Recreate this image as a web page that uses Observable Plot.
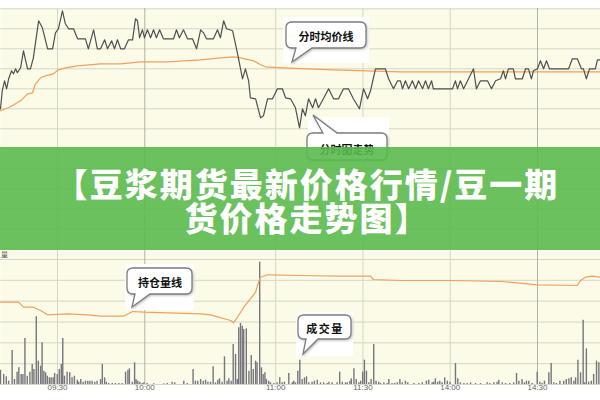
<!DOCTYPE html>
<html>
<head>
<meta charset="utf-8">
<script src="https://cdn.jsdelivr.net/npm/d3@7"></script>
<script src="https://cdn.jsdelivr.net/npm/@observablehq/plot@0.6"></script>
<style>
  html, body { margin: 0; padding: 0; background: #ffffff; }
  #wrap { position: relative; width: 600px; height: 400px; overflow: hidden; background: #ffffff;
          font-family: "Noto Sans CJK SC", "Noto Sans", sans-serif; }
  .layer { position: absolute; left: 0; }
  #banner { position: absolute; left: 0; top: 147px; width: 600px; height: 103px;
            background: rgba(90, 186, 78, 0.9); color: #ffffff; font-weight: 900;
            font-family: "Noto Sans CJK SC", sans-serif; font-size: 33px; line-height: 34px;
            letter-spacing: 2px; text-align: center; box-sizing: border-box; padding-top: 19px; padding-left: 14px; }
  #notes text { font-family: "Noto Sans CJK SC", sans-serif; font-weight: 700; font-size: 11px; fill: #111; }
</style>
</head>
<body>
<div id="wrap">
  <div id="topPanel" class="layer" style="top:0"></div>
  <div id="volPanel" class="layer" style="top:250px"></div>
  <div id="oiPanel" class="layer" style="top:250px"></div>
  <svg id="notes" class="layer" style="top:0" width="600" height="400">
    <rect x="283" y="17" width="86" height="46" fill="#ffffff"/>
    <rect x="308" y="117" width="81" height="45" fill="#ffffff"/>
    <rect x="125" y="264" width="69" height="46" fill="#ffffff"/>
    <rect x="296" y="312" width="57" height="44" fill="#ffffff"/>
    <g fill="#ffffff" stroke="#7d7d7d" stroke-width="1.3" style="filter: drop-shadow(1px 1px 0.8px rgba(0,0,0,0.25));">
      <path d="M292,22 H360 Q366,22 366,28 V42 Q366,48 360,48 H312 L292,62 L296,48 H292 Q286,48 286,42 V28 Q286,22 292,22 Z"/>
      <path d="M313,133 L323,133 L313,115 L337,133 L381,133 Q387,133 387,139 L387,154 Q387,160 381,160 L313,160 Q307,160 307,154 L307,139 Q307,133 313,133 Z"/>
      <path d="M133,268 H186 Q192,268 192,274 V288 Q192,294 186,294 H150 L132,307 L135,294 H133 Q127,294 127,288 V274 Q127,268 133,268 Z"/>
      <path d="M304,315 H345 Q351,315 351,321 V333 Q351,339 345,339 H318 L303,354 L306,339 H304 Q298,339 298,333 V321 Q298,315 304,315 Z"/>
    </g>
    <text x="326" y="36" text-anchor="middle" dominant-baseline="central">分时均价线</text>
    <text x="347" y="149" text-anchor="middle" dominant-baseline="central">分时图走势</text>
    <text x="160" y="282" text-anchor="middle" dominant-baseline="central">持仓量线</text>
    <text x="325" y="328" text-anchor="middle" dominant-baseline="central" style="letter-spacing:1.5px">成交量</text>
    <text x="1" y="257" style="font-size:7px;font-weight:400;fill:#555">量</text>
  </svg>
  <div id="banner">【豆浆期货最新价格行情/豆一期<br>货价格走势图】</div>
</div>
<script>
// ---- x axis: trading minutes since 09:00 (session gaps removed) ----
const tickTimes  = [30, 60, 105, 135, 165, 195];
const tickLabels = ["09:30", "10:00", "11:00", "11:30", "14:00", "14:30"];
const strongTicks = ["10:00", "14:30"];
const xDomain = [10.4, 216.66];

// ---- price panel ----
const priceGrid = [4168, 4172, 4176, 4180, 4184, 4188, 4192, 4196, 4200, 4204, 4208, 4212, 4216];
const priceT = [10.4,11.0,11.8,12.5,13.2,14.2,14.9,15.6,16.2,17.3,18.3,19.7,20.7,21.7,23.5,24.8,26.6,28.3,29.3,30.3,
  31.7,32.7,33.8,35.5,36.9,39.6,40.6,42.4,43.7,44.8,46.2,47.2,48.6,49.6,50.6,51.7,53.0,54.4,55.8,56.8,
  57.5,58.2,59.2,59.9,60.9,62.0,63.0,64.0,65.1,66.4,69.9,70.9,71.9,73.3,74.7,76.4,77.8,79.2,80.2,81.2,
  83.6,85.0,86.0,87.1,88.1,90.2,91.9,93.6,94.6,95.7,96.3,98.1,99.8,100.8,102.2,103.9,105.6,107.3,108.4,110.1,
  111.8,113.2,114.2,115.2,116.3,117.7,118.7,119.7,121.4,123.2,124.9,126.6,128.3,130.0,131.7,133.8,135.2,136.6,137.6,139.3,
  142.7,143.8,145.5,146.9,147.9,148.6,149.6,150.7,152.0,153.1,154.1,155.5,156.5,157.5,158.6,159.2,165.8,166.8,167.5,168.5,
  169.6,171.3,173.0,174.0,175.4,177.8,179.2,180.6,182.3,183.3,184.0,185.0,186.7,187.4,188.5,189.8,190.9,191.9,192.9,193.6,
  195.0,196.0,197.1,198.1,199.1,205.7,207.0,208.7,210.1,210.8,211.8,212.9,214.9,215.6,216.7];
const priceV = [4196.0,4199.6,4201.6,4200.0,4202.0,4203.6,4203.0,4204.0,4203.2,4204.2,4207.6,4204.0,4204.0,4206.2,4213.6,4212.2,4208.0,4208.0,4211.2,4212.0,
  4215.6,4213.0,4212.0,4212.0,4210.0,4210.0,4208.0,4211.8,4208.0,4208.0,4209.8,4208.0,4209.6,4208.0,4209.8,4208.0,4208.0,4209.8,4209.8,4214.0,
  4213.6,4210.2,4211.8,4210.2,4211.8,4210.2,4211.8,4210.2,4211.8,4210.0,4210.0,4211.8,4210.2,4211.8,4210.0,4210.0,4208.0,4211.8,4211.2,4210.0,
  4210.0,4211.8,4210.2,4213.6,4212.0,4211.6,4207.0,4202.0,4204.0,4201.6,4198.2,4198.0,4194.2,4194.6,4198.0,4198.0,4200.0,4200.0,4198.2,4198.0,
  4196.2,4192.2,4196.0,4194.6,4198.0,4196.2,4198.0,4196.2,4198.0,4200.0,4198.0,4198.0,4200.0,4200.0,4198.0,4196.0,4200.0,4198.0,4199.6,4204.0,
  4204.0,4202.0,4200.0,4201.6,4201.6,4200.0,4201.6,4200.0,4201.6,4200.0,4201.6,4200.0,4201.6,4200.0,4201.6,4200.0,4200.0,4201.6,4200.0,4201.6,
  4200.0,4202.0,4204.0,4200.0,4201.6,4201.6,4200.0,4201.6,4202.0,4203.6,4202.0,4204.0,4204.0,4202.0,4202.0,4202.0,4204.0,4204.0,4202.0,4203.6,
  4204.0,4205.6,4204.0,4205.6,4204.0,4204.0,4206.0,4206.0,4204.0,4204.0,4202.0,4204.0,4204.0,4205.8,4205.8];
const avgT = [10.4,13.8,17.3,19.7,21.4,22.4,24.2,25.9,28.6,30.3,32.7,36.9,44.8,51.7,58.5,67.8,79.2,86.0,90.5,92.9,97.4,99.8,101.5,107.7,116.0,124.9,147.9,216.7];
const avgV = [4195.6,4196.4,4197.6,4199.0,4199.2,4201.0,4202.2,4202.6,4203.0,4203.8,4204.2,4204.6,4205.0,4205.0,4205.4,4205.4,4205.8,4206.2,4206.4,4206.2,4205.6,4204.8,4204.4,4204.2,4204.0,4203.8,4203.4,4203.4];

// ---- volume / open interest panel ----
const volGrid = [0, 500, 1000, 1500, 2000, 2500, 3000];
const volT = [10.4,11.5,12.4,13.2,14.4,15.2,16.1,16.7,17.5,18.1,18.8,19.6,20.5,21.3,21.9,22.7,23.4,24.2,24.7,25.3,
  25.9,26.5,27.2,27.8,28.5,29.0,29.9,30.6,31.3,31.8,32.4,33.3,34.2,35.0,35.8,36.8,37.3,38.0,38.8,39.6,
  40.4,41.1,41.9,42.8,43.6,44.8,45.4,46.2,46.8,47.6,48.8,49.9,51.1,52.2,53.4,54.2,54.7,55.7,56.5,57.0,
  57.6,58.3,59.1,59.7,60.8,63.1,66.5,67.7,69.4,70.3,73.4,74.6,76.6,77.4,78.2,
  79.2,80.1,80.9,81.7,82.6,83.5,84.3,85.1,85.7,86.6,87.4,88.3,88.9,89.7,90.4,91.2,91.8,92.3,92.9,93.5,
  94.0,94.9,95.8,96.6,97.3,98.1,98.6,99.5,100.1,100.7,101.3,101.8,102.6,103.2,104.4,105.5,106.4,107.2,108.0,109.5,
  110.7,111.2,111.8,112.6,113.3,114.1,114.9,115.6,116.4,117.5,118.3,119.3,120.4,121.5,122.7,123.3,124.4,126.1,127.0,127.9,
  129.0,129.6,130.5,131.0,131.9,132.7,133.6,134.2,134.9,135.5,136.2,137.0,137.8,138.7,139.5,140.4,141.0,142.2,143.3,143.9,
  145.0,145.9,146.8,147.7,
  148.5,149.6,150.4,152.5,154.2,155.4,156.8,157.6,158.8,159.3,159.9,160.7,161.4,162.2,163.1,164.0,164.9,166.8,167.6,168.5,
  169.7,170.8,172.0,173.7,175.4,177.7,178.6,180.0,181.1,181.7,182.9,184.0,185.5,186.8,187.8,188.6,189.7,190.5,191.2,192.0,
  193.2,194.9,195.8,196.6,197.4,198.9,199.7,200.6,201.5,202.7,204.0,204.9,205.8,206.6,207.5,208.1,208.9,209.8,210.7,211.2,
  211.8,212.6,213.5,214.3,215.3,216.1];
const volV = [344,240,184,80,816,120,296,400,240,240,1104,200,296,480,360,1624,560,440,1000,320,
  280,200,160,160,160,264,240,360,480,1104,200,296,280,160,200,104,56,120,56,80,
  80,80,80,56,80,120,480,160,56,24,24,24,24,24,296,344,376,56,520,120,
  80,56,24,40,24,16,16,24,56,40,80,24,360,80,80,
  120,80,104,56,56,424,40,104,136,56,664,80,136,80,960,720,120,1360,1464,1400,
  1320,1336,320,696,360,560,520,2936,400,240,280,120,80,40,24,40,160,40,56,264,
  40,80,40,320,584,120,160,184,40,56,80,104,40,40,24,56,40,40,296,56,
  40,40,80,136,376,120,40,80,296,584,320,40,120,960,80,56,24,40,24,120,
  24,24,40,120,
  40,80,40,24,24,40,80,104,40,56,136,56,80,40,160,80,56,504,136,40,
  24,24,40,24,24,40,24,40,56,104,40,24,24,40,264,80,120,40,80,80,
  24,296,56,24,80,280,504,40,24,80,80,120,136,160,80,160,584,280,1544,40,
  856,56,80,240,560,520];
const oiT = [10.4,16.6,18.3,21.7,24.2,26.6,33.4,40.3,44.8,52.7,55.8,59.6,79.2,82.6,89.5,90.5,91.9,94.0,96.3,98.1,
  99.1,99.8,102.2,113.5,127.3,137.6,138.6,147.9,165.1,182.3,188.1,195.0,208.7,209.8,211.5,213.9,216.7];
const oiV = [144115,144115,143865,143865,143700,143485,143535,143485,143415,143415,143650,143615,143535,143485,143200,143085,143365,143865,144285,144615,
  145115,145365,145485,145450,145415,145415,145250,145200,145200,145150,145085,144985,144950,145200,145365,145415,145365];

const BG = "#fbfbe8", GRID = "#d6d6c6", GRID2 = "#b2b2a8";
const price = priceT.map((t, i) => ({t, p: priceV[i]}));
const avg = avgT.map((t, i) => ({t, p: avgV[i]}));
const vol = volT.map((t, i) => ({t, v: volV[i]}));
const oi = oiT.map((t, i) => ({t, v: oiV[i]}));
const tickStroke = (d, i) => strongTicks.includes(tickLabels[i]) ? GRID2 : GRID;
const font = {fontFamily: "'Liberation Sans', sans-serif", background: "transparent"};

const topChart = Plot.plot({
  width: 600, height: 250, marginTop: 8, marginRight: 0, marginBottom: 0, marginLeft: 0,
  x: {domain: xDomain, range: [0, 600], axis: null},
  y: {domain: [4168, 4216], range: [248.3, 8.3], axis: null},
  color: {type: "identity"},
  style: font,
  marks: [
    Plot.frame({fill: BG, stroke: "none"}),
    Plot.ruleY(priceGrid, {stroke: GRID, strokeWidth: 1}),
    Plot.ruleX(tickTimes, {stroke: tickStroke, strokeWidth: 1}),
    Plot.line(avg, {x: "t", y: "p", stroke: "#f2a05a", strokeWidth: 1.2}),
    Plot.line(price, {x: "t", y: "p", stroke: "#505050", strokeWidth: 1.2})
  ]
});
document.getElementById("topPanel").appendChild(topChart);

const volChart = Plot.plot({
  width: 600, height: 150, marginTop: 0, marginRight: 0, marginBottom: 16, marginLeft: 0,
  x: {domain: xDomain, range: [0, 600], ticks: tickTimes, tickFormat: d => tickLabels[tickTimes.indexOf(d)],
      tickSize: 0, tickPadding: 0, label: null},
  y: {domain: [0, 3000], range: [134, 9], axis: null},
  color: {type: "identity"},
  style: {...font, fontSize: "8px", color: "#666666"},
  marks: [
    Plot.frame({fill: BG, stroke: "none"}),
    Plot.ruleY(volGrid, {stroke: GRID, strokeWidth: 1}),
    Plot.ruleX(tickTimes, {stroke: tickStroke, strokeWidth: 1}),
    Plot.ruleX(vol, {x: "t", y: "v", stroke: "#76767e", strokeWidth: 1.4})
  ]
});
document.getElementById("volPanel").appendChild(volChart);

const oiChart = Plot.plot({
  width: 600, height: 150, marginTop: 0, marginRight: 0, marginBottom: 16, marginLeft: 0,
  x: {domain: xDomain, range: [0, 600], axis: null},
  y: {domain: [140000, 146700], range: [134, 0], axis: null},
  style: font,
  marks: [
    Plot.line(oi, {x: "t", y: "v", stroke: "#f2a05a", strokeWidth: 1.2})
  ]
});
document.getElementById("oiPanel").appendChild(oiChart);
</script>
</body>
</html>
